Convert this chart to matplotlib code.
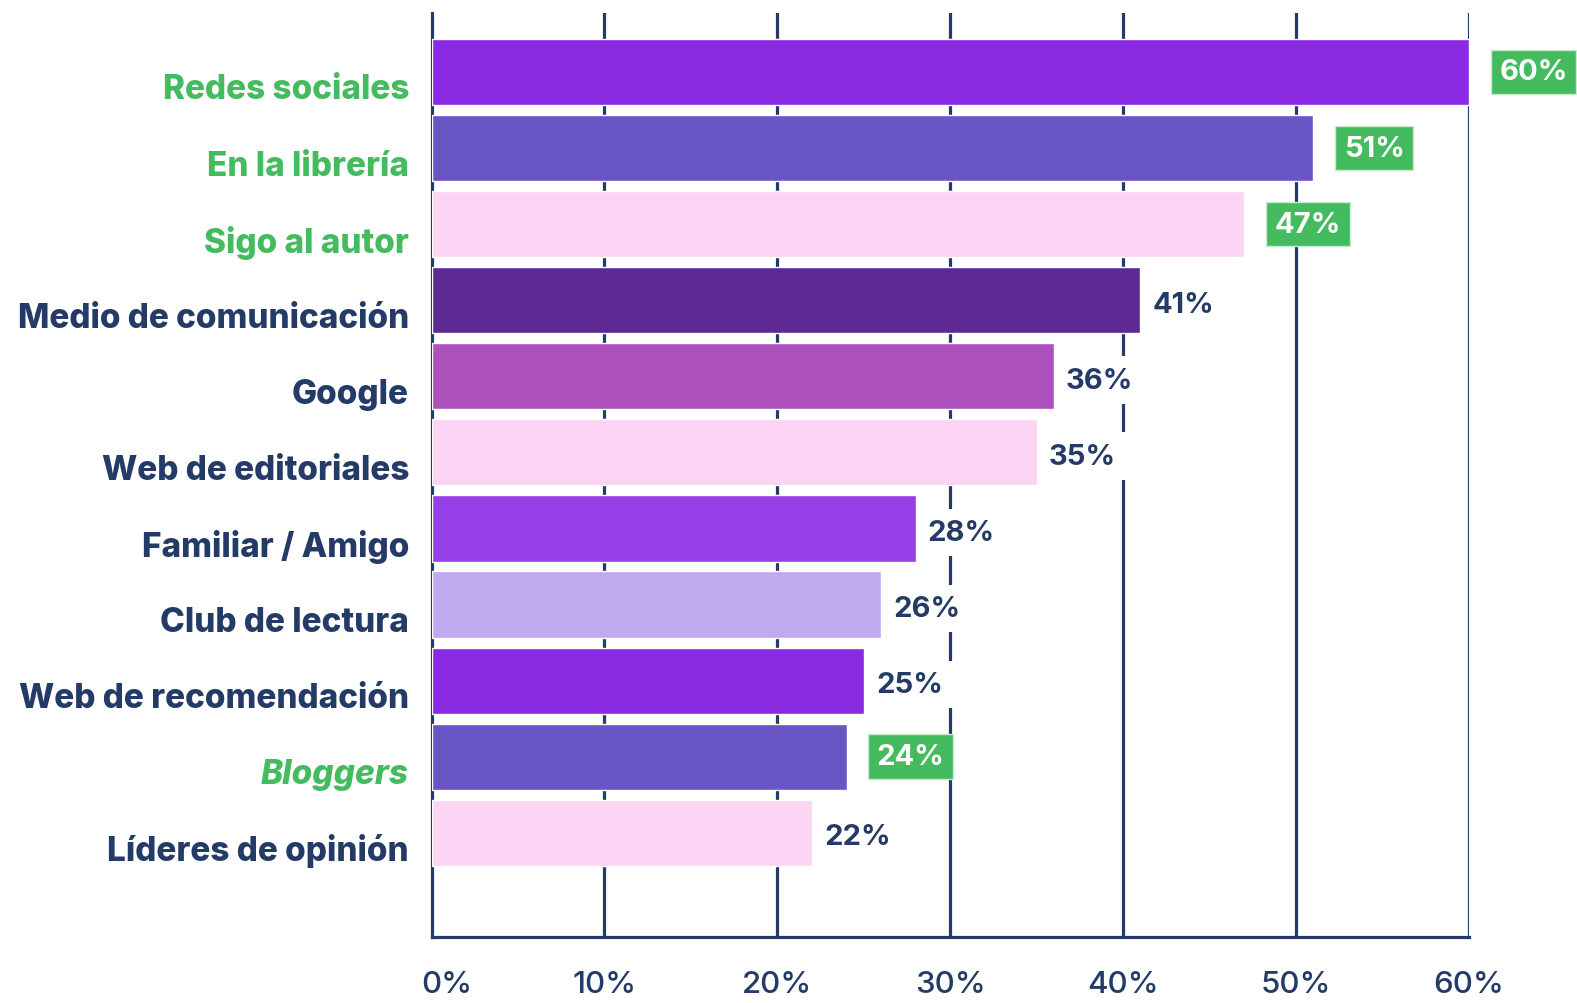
import matplotlib
matplotlib.use("Agg")
import matplotlib.pyplot as plt
from matplotlib.ticker import FixedLocator
from matplotlib.transforms import ScaledTranslation

categories = ["Redes sociales", "En la librería", "Sigo al autor", "Medio de comunicación",
              "Google", "Web de editoriales", "Familiar / Amigo", "Club de lectura",
              "Web de recomendación", "Bloggers", "Líderes de opinión"]
values = [60, 51, 47, 41, 36, 35, 28, 26, 25, 24, 22]
highlight = [True, True, True, False, False, False, False, False, False, True, False]
bar_colors = ["#8a2be2", "#6a55c4", "#fbd3f3", "#5c2a92", "#ad52bd", "#fbd3f3",
              "#9540e6", "#c0a9ef", "#8a2be2", "#6a55c4", "#fbd3f3"]
xticks = [0, 10, 20, 30, 40, 50, 60]
xtick_labels = ["0%", "10%", "20%", "30%", "40%", "50%", "60%"]

NAVY = "#243b68"
GREEN = "#44bb5e"
FONT = "Inter"

W, H = 1577, 1004
fig = plt.figure(figsize=(W / 100, H / 100), dpi=100)
ax = fig.add_axes([431.5 / W, 1 - 938 / H, (1469 - 431.5) / W, (938 - 14) / H])

y = list(range(len(categories)))
ax.barh(y, values, height=0.87, color=bar_colors, edgecolor="white", linewidth=1, zorder=2)
ax.set_xlim(0, 60)
ax.set_ylim(len(categories) - 1 + 1.37, -0.775)

for xv in xticks[1:]:
    ax.axvline(xv, color=NAVY, lw=2.3, zorder=1)
for s in ["top", "right"]:
    ax.spines[s].set_visible(False)
for s in ["left", "bottom"]:
    ax.spines[s].set_color(NAVY)
    ax.spines[s].set_linewidth(2.3)
ax.spines["left"].set_zorder(0.5)

ax.xaxis.set_major_locator(FixedLocator(xticks))
ax.set_xticklabels(xtick_labels, fontsize=22.5, color=NAVY, fontfamily=FONT, fontweight="medium")
ax.tick_params(axis="x", length=0, pad=24)
first = ax.get_xticklabels()[0]
first.set_transform(first.get_transform() + ScaledTranslation(0.15, 0, fig.dpi_scale_trans))
ax.set_yticks([])

for i, (cat, v, hl) in enumerate(zip(categories, values, highlight)):
    ax.text(-1.3, i + 0.23, cat, ha="right", va="center", fontsize=24,
            fontweight="heavy", fontfamily=FONT,
            color=GREEN if hl else NAVY,
            style="italic" if cat == "Bloggers" else "normal")
    label = f"{v}%"
    if hl:
        ax.text(v + 1.75, i, label, ha="left", va="center", fontsize=21,
                fontweight="bold", fontfamily=FONT, color="white", zorder=3,
                bbox=dict(boxstyle="square,pad=0.3", fc=GREEN, ec="#c8ebcf", lw=1))
    else:
        ax.text(v + 0.7, i + 0.05, label, ha="left", va="center", fontsize=21,
                fontweight="bold", fontfamily=FONT, color=NAVY, zorder=3,
                bbox=dict(boxstyle="square,pad=0.35", fc="white", ec="none"))

fig.savefig("out.png", dpi=100, facecolor="white")
